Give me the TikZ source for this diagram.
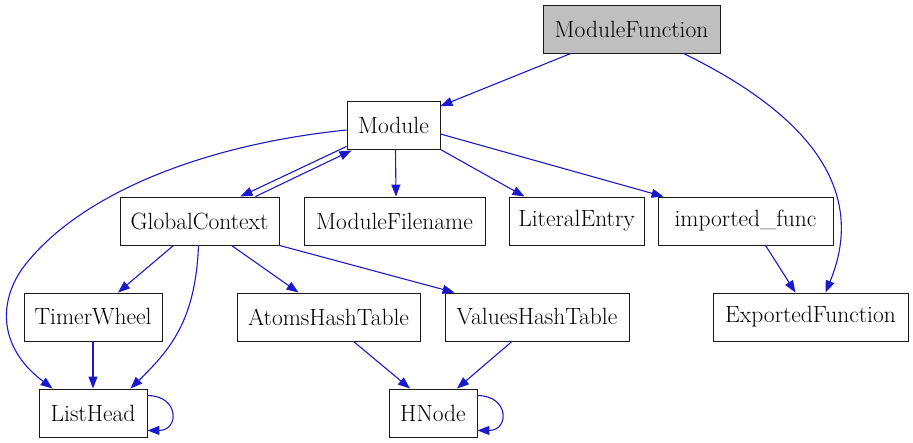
\documentclass[tikz,border=0pt]{standalone}
\usepackage{xcolor}
\usetikzlibrary{arrows.meta}
\definecolor{graphedge}{HTML}{1A1ACC}
\definecolor{graphfill}{HTML}{BFBFBF}
\definecolor{graphline}{HTML}{1A1A1A}

\begin{document}
\begin{tikzpicture}[x=1pt, y=-1pt, >={Triangle[length=12pt,width=9pt]},
                    every node/.style={graphline},
                    box/.style={draw=graphline, line width=0.9pt, rectangle,
                                minimum height=48pt, inner sep=0pt,
                                font=\fontsize{23.5}{28}\selectfont, text=black},
                    edge/.style={graphedge, line width=1.1pt, ->}]

  \useasboundingbox (0,0) rectangle (913,443);

  %% Knoten, Zeile fuer Zeile
  \node[box, fill=graphfill, minimum width=177pt] (mf) at (631.5,29) {ModuleFunction};
  \node[box, minimum width=93pt]  (mod) at (393.5,125) {Module};
  \node[box, minimum width=159pt] (gc)  at (199.5,221) {GlobalContext};
  \node[box, minimum width=181pt] (mfn) at (394.5,221) {ModuleFilename};
  \node[box, minimum width=135pt] (le)  at (576.5,221) {LiteralEntry};
  \node[box, minimum width=175pt] (imp) at (745.5,221) {imported\_func};
  \node[box, minimum width=138pt] (tw)  at (93,317)    {TimerWheel};
  \node[box, minimum width=183pt] (aht) at (328.5,317) {AtomsHashTable};
  \node[box, minimum width=184pt] (vht) at (537,317)   {ValuesHashTable};
  \node[box, minimum width=195pt] (ef)  at (810.5,317) {ExportedFunction};
  \node[box, minimum width=108pt] (lh)  at (93,413)    {ListHead};
  \node[box, minimum width=88pt]  (hn)  at (433,413)   {HNode};

  %% ModuleFunction
  \draw[edge] (mf) -- (mod);
  \draw[edge] ([xshift=-37pt]mf.south east)
    .. controls +(117,57) and (870,185) .. ([xshift=15pt]ef.north);

  %% Module
  \draw[edge] ([yshift=3pt]mod.south west) -- ([xshift=-39pt]gc.north east);
  \draw[edge] ([xshift=-24pt]gc.north east) -- ([xshift=5pt,yshift=-1pt]mod.south west);
  \draw[edge] ([xshift=2pt]mod.south) -- ([xshift=1.5pt]mfn.north);
  \draw[edge] (mod.south east) -- ([xshift=-52pt]le.north);
  \draw[edge] ([yshift=-9pt]mod.east) -- ([xshift=6pt]imp.north west);
  \draw[edge] ([yshift=-5pt]mod.west)
    .. controls (200,145) and (80,195) .. (25,265)
    .. controls (0,297) and (-5,345) .. ([xshift=14pt]lh.north west);

  %% GlobalContext
  \draw[edge] ([xshift=-26pt]gc.south) -- ([xshift=25pt]tw.north);
  \draw[edge] ([xshift=-1pt]gc.south)
    .. controls +(-3,75) and +(40,-39) .. ([xshift=-17pt]lh.north east);
  \draw[edge] ([xshift=32pt]gc.south) -- ([xshift=-30pt]aht.north);
  \draw[edge] (gc.south east) -- ([xshift=10pt]vht.north west);

  %% restliche Kanten
  \draw[edge] ([xshift=20pt]imp.south) -- ([xshift=-15pt]ef.north);
  \draw[edge] (tw) -- (lh);
  \draw[edge] ([xshift=25pt]aht.south) -- ([xshift=-23pt]hn.north);
  \draw[edge] ([xshift=-25pt]vht.south) -- ([xshift=24pt]hn.north);

  %% Schleifen
  \draw[edge] ([yshift=-7pt]lh.north east)
    .. controls +(32,0) and +(32,0) .. ([yshift=7pt]lh.south east);
  \draw[edge] ([yshift=-7pt]hn.north east)
    .. controls +(32,0) and +(32,0) .. ([yshift=7pt]hn.south east);

\end{tikzpicture}
\end{document}
